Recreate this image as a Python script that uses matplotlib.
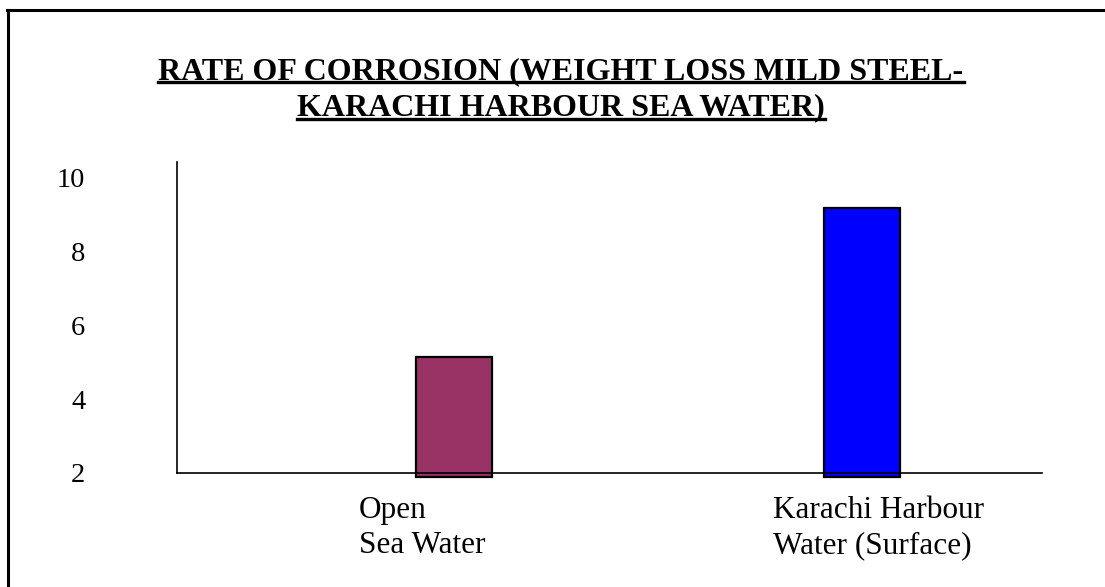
import numpy as np
import matplotlib.pyplot as plt
from matplotlib.lines import Line2D
from matplotlib.transforms import offset_copy

# data
categories = ["Open\nSea Water", "Karachi Harbour\nWater (Surface)"]
rates = [5.15, 9.17]
colors = ["#993366", "#0000FF"]
yticks = [2, 4, 6, 8, 10]
title_lines = ["RATE OF CORROSION (WEIGHT LOSS MILD STEEL-",
               "KARACHI HARBOUR SEA WATER)"]

plt.rcParams['font.family'] = ['Liberation Serif', 'DejaVu Serif']

fig = plt.figure(figsize=(11.05, 5.87), dpi=100)
W, H = 1105, 587
ax = fig.add_axes([177 / W, 1 - 473 / H, (1042 - 177) / W, (473 - 162) / H])

x = np.arange(len(categories))
base = 1.89
ax.bar(x, np.array(rates) - base, bottom=base, width=0.186, color=colors,
       edgecolor='black', linewidth=1.6, clip_on=False, zorder=3)

ax.set_xlim(-0.679, 1.441)
ax.set_ylim(2, 10.43)
ax.set_yticks(yticks)
ax.set_yticklabels([str(t) for t in yticks], fontsize=20.5)
ax.tick_params(axis='y', length=0, pad=66)
ax.set_xticks([])

for s in ['top', 'right']:
    ax.spines[s].set_visible(False)
for s in ['left', 'bottom']:
    ax.spines[s].set_linewidth(1.2)
    ax.spines[s].set_zorder(4)

# category labels, left aligned below each bar
shifts = [-95, -89]
for xi, lab, dx in zip(x, categories, shifts):
    tr = offset_copy(ax.get_xaxis_transform(), fig=fig, x=dx, y=0, units='dots')
    ax.text(xi, -0.075, lab, transform=tr, ha='left', va='top', fontsize=22.5,
            linespacing=1.28)

# underlined bold title
renderer = fig.canvas.get_renderer()
for i, line in enumerate(title_lines):
    yb = 1 - (79 + 36 * i) / H
    t = fig.text(561 / W, yb, line, ha='center', va='baseline',
                 fontsize=23, fontweight='bold')
    bb = t.get_window_extent(renderer)
    yu = yb - 3.5 / H
    fig.add_artist(Line2D([bb.x0 / W, bb.x1 / W], [yu, yu], color='black',
                          linewidth=2.4, transform=fig.transFigure))

# frame lines (top and left only)
fig.add_artist(Line2D([7 / W, 1], [1 - 10 / H, 1 - 10 / H], color='black',
                      linewidth=2.2, transform=fig.transFigure))
fig.add_artist(Line2D([7.5 / W, 7.5 / W], [0, 1 - 10 / H], color='black',
                      linewidth=2.2, transform=fig.transFigure))

fig.savefig("out.png", dpi=100)
